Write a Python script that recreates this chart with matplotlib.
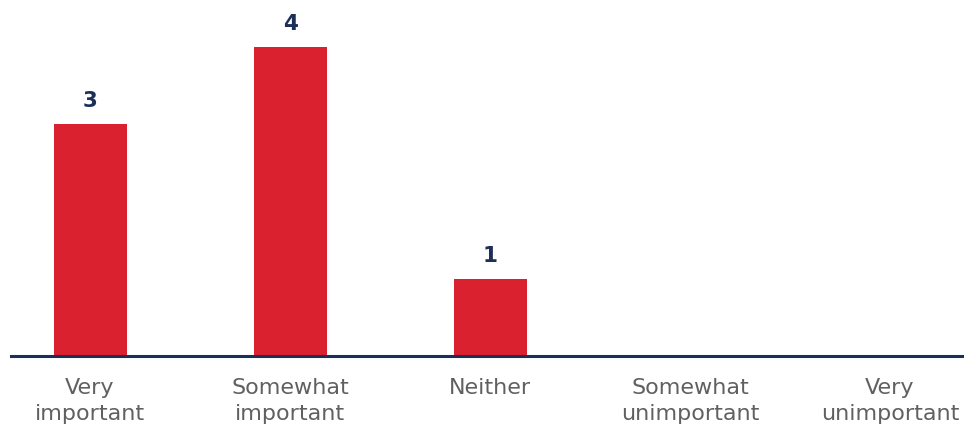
import numpy as np
import matplotlib
matplotlib.use("Agg")
import matplotlib.pyplot as plt

# chart data
categories = ["Very\nimportant", "Somewhat\nimportant", "Neither",
              "Somewhat\nunimportant", "Very\nunimportant"]
counts = [3, 4, 1, 0, 0]

RED = "#d9212f"
NAVY = "#1c2f57"
GREY = "#606060"

plt.rcParams['font.family'] = ['DejaVu Sans']

fig = plt.figure(figsize=(9.77, 4.32), dpi=100)
ax = fig.add_axes([11 / 977, 76 / 432, 951 / 977, 0.805])

x = np.arange(len(categories))
bars = ax.bar(x, counts, width=0.365, color=RED, zorder=2)

for xi, v in zip(x, counts):
    if v > 0:
        ax.text(xi, v + 0.3, str(v), ha='center', va='center',
                fontsize=15.5, fontweight='bold', color=NAVY)

ax.set_xlim(-0.395, 4.36)
ax.set_ylim(0, 4.5)

for side in ['top', 'right', 'left']:
    ax.spines[side].set_visible(False)
ax.spines['bottom'].set_color(NAVY)
ax.spines['bottom'].set_linewidth(2.2)
ax.spines['bottom'].set_zorder(3)

ax.set_yticks([])
ax.set_xticks(x)
ax.set_xticklabels(categories, fontsize=16, color=GREY, linespacing=1.38,
                   va='top')
ax.tick_params(axis='x', length=0, pad=16)

plt.savefig('out.png', dpi=100)
